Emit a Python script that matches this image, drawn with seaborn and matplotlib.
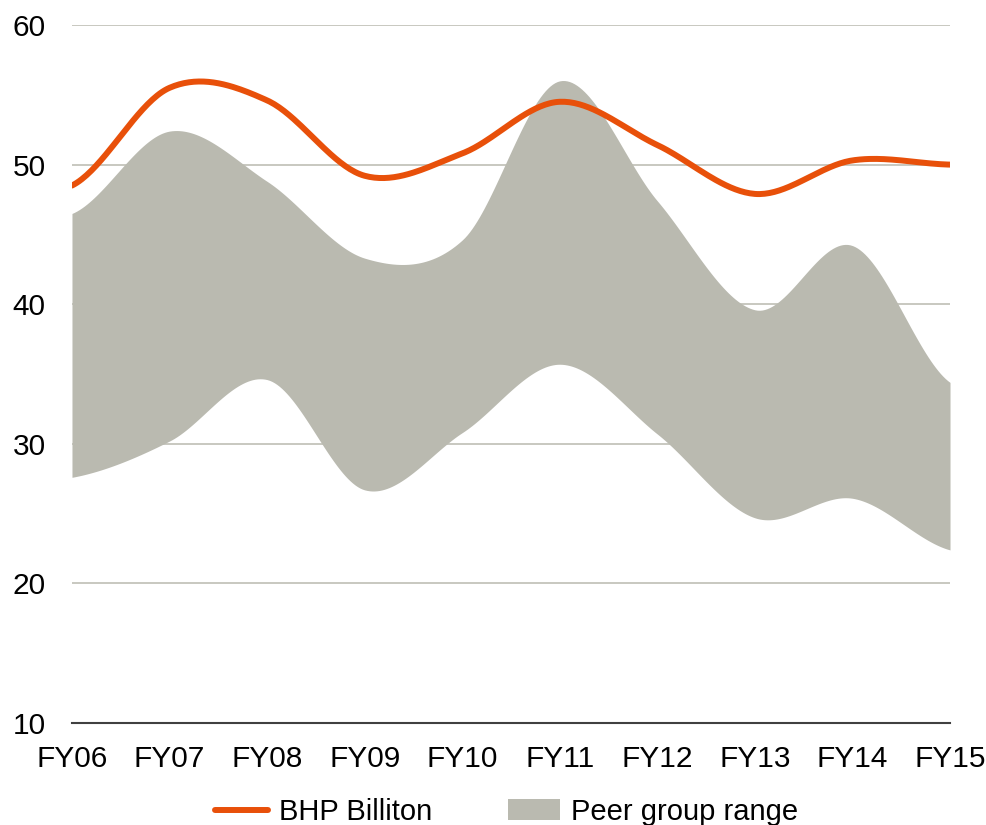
import numpy as np
import pandas as pd
import seaborn as sns
import matplotlib.pyplot as plt
from matplotlib.patches import Patch
from matplotlib.lines import Line2D

# values
years = ['FY06', 'FY07', 'FY08', 'FY09', 'FY10', 'FY11', 'FY12', 'FY13', 'FY14', 'FY15']
bhp = [48.5, 55.5, 54.6, 49.2, 50.8, 54.5, 51.4, 47.9, 50.3, 50.0]
peer_high = [46.5, 52.4, 48.8, 43.3, 44.6, 56.0, 47.4, 39.6, 44.2, 34.4]
peer_low = [27.6, 30.2, 34.6, 26.7, 30.8, 35.7, 30.7, 24.7, 26.1, 22.4]

ORANGE = '#E8500A'
GREY = '#BABAB0'


# smoothed line like the spreadsheet charts (Catmull-Rom through the points)
def smooth(y, n=40):
    y = np.asarray(y, dtype=float)
    x = np.arange(len(y), dtype=float)
    p = np.concatenate([[y[0]], y, [y[-1]]])
    xs, ys = [], []
    for i in range(len(y) - 1):
        p0, p1, p2, p3 = p[i], p[i + 1], p[i + 2], p[i + 3]
        t = np.linspace(0, 1, n, endpoint=False)
        c1 = p1 + (p2 - p0) / 6
        c2 = p2 - (p3 - p1) / 6
        seg = ((1 - t) ** 3 * p1 + 3 * (1 - t) ** 2 * t * c1
               + 3 * (1 - t) * t ** 2 * c2 + t ** 3 * p2)
        xs.append(x[i] + t)
        ys.append(seg)
    xs.append([x[-1]])
    ys.append([y[-1]])
    return np.concatenate(xs), np.concatenate(ys)


sns.set_style('white')
plt.rcParams['font.family'] = ['Liberation Sans', 'DejaVu Sans']

fig = plt.figure(figsize=(9.86, 8.25), dpi=100)
ax = fig.add_axes([0.073, 0.1236, 0.8905, 0.8461])

xs, hi = smooth(peer_high)
_, lo = smooth(peer_low)
ax.fill_between(xs, lo, hi, color=GREY, linewidth=0, zorder=2)

bx, by = smooth(bhp)
line_df = pd.DataFrame({'x': bx, 'y': by})
sns.lineplot(data=line_df, x='x', y='y', ax=ax, color=ORANGE, linewidth=4.3,
             sort=False, estimator=None, zorder=3)
ax.lines[-1].set_solid_capstyle('round')

ax.set_xlim(0, len(years) - 1)
ax.set_ylim(10, 60)
ax.set_yticks([10, 20, 30, 40, 50, 60])
ax.set_xticks(range(len(years)))
ax.set_xticklabels(years)
ax.set_xlabel('')
ax.set_ylabel('')
ax.yaxis.grid(True, color='#BFBFB5', linewidth=1.2, zorder=0)
ax.set_axisbelow(True)
for s in ['top', 'right', 'left']:
    ax.spines[s].set_visible(False)
ax.spines['bottom'].set_color('#404040')
ax.spines['bottom'].set_linewidth(1.5)
ax.spines['bottom'].set_zorder(4)
ax.tick_params(axis='both', length=0, labelsize=21.5, colors='black')
ax.tick_params(axis='x', pad=16)
ax.tick_params(axis='y', pad=19)

handles = [Line2D([0], [0], color=ORANGE, linewidth=4.3, solid_capstyle='round'),
           Patch(facecolor=GREY, edgecolor='none')]
fig.legend(handles, ['BHP Billiton', 'Peer group range'], loc='center',
           bbox_to_anchor=(0.514, 0.016), ncol=2, frameon=False, fontsize=21,
           handlelength=1.8, handletextpad=0.37, columnspacing=2.6,
           labelcolor='black')

fig.savefig('out.png', dpi=100)
